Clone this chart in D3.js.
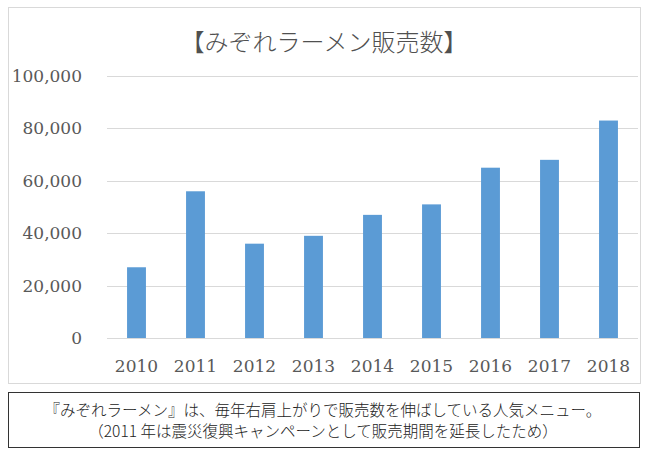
<!DOCTYPE html>
<html>
<head>
<meta charset="utf-8">
<script src="https://cdn.jsdelivr.net/npm/d3@7"></script>
<style>
  body { margin: 0; background: #fff; }
</style>
</head>
<body>
<script>
const years = ["2010", "2011", "2012", "2013", "2014", "2015", "2016", "2017", "2018"];
const sales = [27000, 56000, 36000, 39000, 47000, 51000, 65000, 68000, 83000];
const yTicks = [0, 20000, 40000, 60000, 80000, 100000];
const title = "【みぞれラーメン販売数】";
const notes = [
  "『みぞれラーメン』は、毎年右肩上がりで販売数を伸ばしている人気メニュー。",
  "（2011 年は震災復興キャンペーンとして販売期間を延長したため）"
];

const width = 650;
const height = 460;

const svg = d3
  .select("body")
  .append("svg")
  .attr("width", width)
  .attr("height", height);

// chart frame
svg
  .append("rect")
  .attr("x", 8.5)
  .attr("y", 7.5)
  .attr("width", 632)
  .attr("height", 376)
  .attr("fill", "#fff")
  .attr("stroke", "#d9d9d9");

svg
  .append("text")
  .attr("x", 324)
  .attr("y", 51)
  .attr("text-anchor", "middle")
  .attr("font-family", "'Noto Sans CJK JP'")
  .attr("font-weight", 300)
  .attr("font-size", 24)
  .attr("fill", "#505050")
  .text(title);

const x = d3.scaleBand().domain(years).range([107, 638]).paddingInner(0.68).paddingOuter(0.34);
const y = d3.scaleLinear().domain([0, 100000]).range([338, 76]);

// gridlines
svg
  .append("g")
  .selectAll("line")
  .data(yTicks)
  .enter()
  .append("line")
  .attr("x1", 107)
  .attr("x2", 638)
  .attr("y1", (d) => Math.round(y(d)) + 0.5)
  .attr("y2", (d) => Math.round(y(d)) + 0.5)
  .attr("stroke", "#d9d9d9")
  .attr("stroke-width", 1.2);

// y labels
svg
  .append("g")
  .selectAll("text")
  .data(yTicks)
  .enter()
  .append("text")
  .attr("x", 82)
  .attr("y", (d) => y(d) + 6)
  .attr("text-anchor", "end")
  .attr("font-family", "'DejaVu Serif'")
  .attr("font-size", 17)
  .attr("fill", "#595959")
  .text((d) => d3.format(",")(d));

// bars
svg
  .append("g")
  .selectAll("rect")
  .data(sales)
  .enter()
  .append("rect")
  .attr("x", (d, i) => x(years[i]))
  .attr("y", (d) => y(d))
  .attr("width", x.bandwidth())
  .attr("height", (d) => y(0) - y(d))
  .attr("fill", "#5b9bd5");

// x labels
svg
  .append("g")
  .selectAll("text")
  .data(years)
  .enter()
  .append("text")
  .attr("x", (d) => x(d) + x.bandwidth() / 2)
  .attr("y", 372)
  .attr("text-anchor", "middle")
  .attr("font-family", "'DejaVu Serif'")
  .attr("font-size", 17)
  .attr("fill", "#595959")
  .text((d) => d);

// note box
svg
  .append("rect")
  .attr("x", 8.5)
  .attr("y", 392.5)
  .attr("width", 631)
  .attr("height", 55)
  .attr("fill", "#fff")
  .attr("stroke", "#333")
  .attr("stroke-width", 1);

svg
  .append("g")
  .selectAll("text")
  .data(notes)
  .enter()
  .append("text")
  .attr("x", 323)
  .attr("y", (d, i) => 416 + i * 21)
  .attr("text-anchor", "middle")
  .attr("font-family", "'Noto Sans CJK JP'")
  .attr("font-weight", 300)
  .attr("font-size", 15.5)
  .attr("fill", "#222")
  .text((d) => d);
</script>
</body>
</html>
